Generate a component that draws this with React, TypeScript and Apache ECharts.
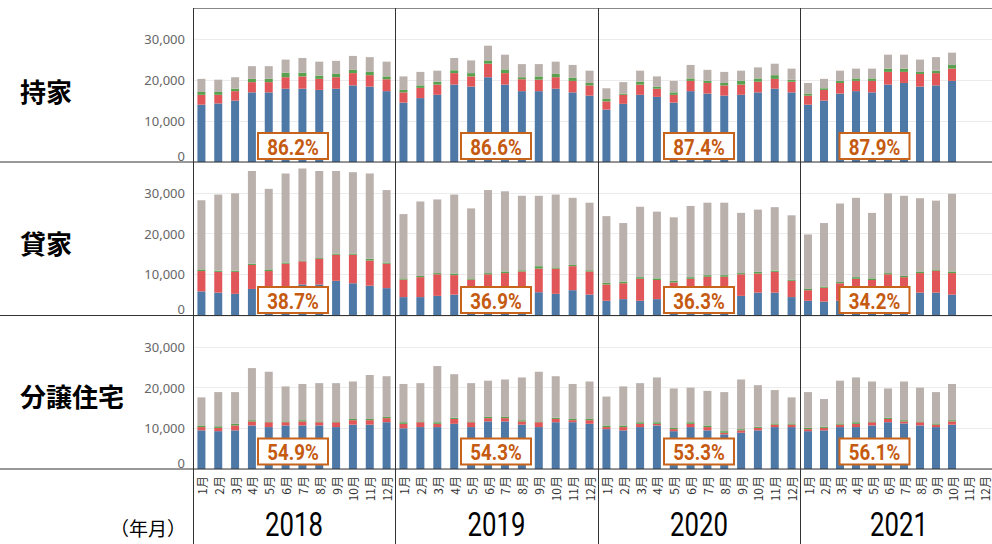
import React, { useEffect, useRef } from "react";
import * as echarts from "echarts";

const months = ["1月", "2月", "3月", "4月", "5月", "6月", "7月", "8月", "9月", "10月", "11月", "12月"];
const years = ["2018", "2019", "2020", "2021"];
const rowLabels = ["持家", "貸家", "分譲住宅"];
const shareLabels = [
  ["86.2%", "86.6%", "87.4%", "87.9%"],
  ["38.7%", "36.9%", "36.3%", "34.2%"],
  ["54.9%", "54.3%", "53.3%", "56.1%"],
];
const layerNames = ["区分A", "区分B", "区分C", "区分D"];

// Stacked tops (cumulative heights), per year
// 持家
const ownedBlue = [
  [14000, 14300, 15000, 17000, 17000, 17900, 17900, 17600, 17900, 18700, 18400, 17300],
  [14500, 15600, 16400, 18900, 18400, 20700, 18900, 17300, 17300, 17900, 17000, 16200],
  [12800, 14200, 16400, 15900, 14500, 17300, 16700, 16200, 16400, 17000, 17900, 17000],
  [14000, 15000, 16700, 17300, 17000, 18900, 19300, 18400, 18700, 19800],
];
const ownedRed = [
  [16400, 16400, 17300, 19500, 19500, 20700, 20900, 20300, 20700, 21700, 21200, 20200],
  [17000, 18100, 18900, 21700, 20900, 24000, 21700, 20200, 20100, 20700, 19800, 18700],
  [14800, 16400, 18900, 17900, 16400, 19800, 19300, 18700, 18900, 19600, 20300, 19600],
  [16200, 17600, 19300, 19800, 19800, 22000, 22000, 21500, 21700, 22800],
];
const ownedGreen = [
  [17100, 17100, 17900, 20300, 20300, 21800, 21800, 21100, 21500, 22500, 22000, 20900],
  [17600, 18700, 19600, 22400, 21700, 24800, 22600, 20700, 20900, 21500, 20600, 19300],
  [15400, 16700, 19600, 18400, 17000, 20400, 19800, 19300, 19800, 20400, 21200, 20100],
  [16700, 18000, 19800, 20400, 20400, 22800, 22800, 22000, 22300, 23700],
];
const ownedGray = [
  [20300, 20100, 20700, 23400, 23400, 25000, 25400, 24500, 24700, 25900, 25600, 24500],
  [20900, 22000, 22300, 25400, 24800, 28400, 26200, 23900, 23900, 24500, 23700, 22300],
  [18000, 19500, 22300, 20900, 19800, 23700, 22500, 22000, 22300, 23100, 24000, 22800],
  [19300, 20300, 22300, 22800, 22800, 26200, 26200, 25000, 25600, 26700],
];
// 貸家
const rentalBlue = [
  [5800, 5500, 5200, 6400, 6000, 6500, 7500, 7500, 8400, 7800, 7200, 6600],
  [4400, 4400, 4700, 5000, 4500, 4800, 5000, 5000, 5600, 5200, 6100, 5000],
  [3500, 3900, 3500, 3900, 3500, 3800, 4000, 4000, 4700, 5500, 5500, 4400],
  [3500, 3300, 3500, 3500, 3800, 4500, 5000, 5500, 5500, 5000],
];
const rentalRed = [
  [10800, 10600, 10600, 12300, 10800, 12600, 13200, 13800, 14800, 14800, 13400, 12600],
  [8700, 9300, 10000, 9800, 8700, 10000, 10300, 10700, 11400, 11400, 12000, 10700],
  [7500, 7800, 8900, 8600, 8000, 8900, 9400, 9400, 10000, 10200, 10600, 8400],
  [6100, 6700, 7800, 8900, 8600, 10000, 9300, 10300, 10900, 10300],
];
const rentalGreen = [
  [11200, 10900, 10900, 12600, 11200, 12900, 13400, 14000, 15100, 15100, 13800, 12900],
  [9000, 9600, 10300, 10200, 9000, 10300, 10700, 11000, 12000, 11700, 12300, 11000],
  [7900, 8200, 9300, 9000, 8400, 9300, 9800, 9800, 10300, 10600, 10900, 8700],
  [6400, 7000, 8100, 9300, 9000, 10300, 9600, 10700, 11200, 10700],
];
const rentalGray = [
  [28200, 29600, 29900, 35400, 31000, 34800, 36000, 35400, 35400, 35100, 34800, 30700],
  [24800, 27900, 28400, 29600, 26200, 30700, 30400, 29300, 29300, 29600, 28800, 27600],
  [24300, 22600, 26600, 25400, 24000, 26800, 27600, 27600, 25100, 25900, 26500, 24500],
  [19800, 22600, 27400, 28800, 25100, 29900, 29300, 28700, 28100, 29800],
];
// 分譲住宅
const condoBlue = [
  [9500, 9300, 9500, 10700, 10300, 10700, 10700, 10700, 10300, 10900, 10900, 11500],
  [10000, 10300, 10300, 11100, 10300, 11700, 11700, 10900, 10300, 11500, 11500, 11100],
  [9800, 9500, 10300, 10700, 9300, 10300, 9500, 8500, 8900, 9500, 10300, 10300],
  [9300, 9500, 10300, 10300, 10700, 11500, 11200, 10700, 10300, 10900],
];
const condoRed = [
  [10300, 10100, 10700, 11700, 11500, 11500, 11700, 11500, 11500, 12000, 12000, 12500],
  [11100, 11500, 11100, 12300, 11500, 12500, 12500, 11700, 11500, 12300, 12000, 12000],
  [10300, 10300, 11100, 11100, 9800, 11100, 10300, 8900, 9500, 10100, 10900, 10900],
  [9800, 10100, 10900, 11100, 11500, 12300, 11700, 11500, 10900, 11700],
];
const condoGreen = [
  [10700, 10500, 11100, 12000, 11700, 11700, 12000, 11700, 11700, 12300, 12300, 12800],
  [11500, 11700, 11500, 12600, 11700, 12800, 12800, 12000, 11700, 12600, 12300, 12300],
  [10700, 10700, 11500, 11500, 10100, 11500, 10700, 9300, 9800, 10400, 11200, 11200],
  [10100, 10400, 11200, 11500, 11700, 12600, 12000, 11700, 11200, 12000],
];
const condoGray = [
  [17600, 18900, 18900, 24800, 23900, 20300, 20900, 21100, 21100, 21500, 23100, 22800],
  [20900, 21100, 25300, 23300, 21100, 21700, 22000, 22500, 23900, 22800, 20900, 21500],
  [17800, 20300, 21100, 22500, 19800, 20000, 19200, 18900, 22000, 20600, 19400, 17600],
  [18900, 17200, 21700, 22500, 21500, 19800, 21500, 20000, 18900, 20900],
];

const rowsData = [
  [ownedBlue, ownedRed, ownedGreen, ownedGray],
  [rentalBlue, rentalRed, rentalGreen, rentalGray],
  [condoBlue, condoRed, condoGreen, condoGray],
];

const COLORS = ["#4e79a7", "#e15759", "#59a14f", "#bab0ac"];
const COL_X = [193, 395, 598, 800];
const COL_W = [202, 203, 202, 203];
const ROW_Y = [8, 162, 316];
const ROW_H = [154, 153, 153];
const Y_MAX = 37600;
const FONT = "'Noto Sans CJK JP', 'Noto Sans', sans-serif";
const BOX_X = [293, 496, 699, 874.5];
const BOX_Y = [146, 300, 451.5];

export default function App() {
  const ref = useRef<HTMLDivElement>(null);

  useEffect(() => {
    if (!ref.current) return;
    const chart = echarts.init(ref.current, undefined, { renderer: "svg" });

    const grid: any[] = [];
    const xAxis: any[] = [];
    const yAxis: any[] = [];
    const series: any[] = [];

    for (let r = 0; r < 3; r++) {
      for (let c = 0; c < 4; c++) {
        const idx = r * 4 + c;
        grid.push({ left: COL_X[c], top: ROW_Y[r], width: COL_W[c], height: ROW_H[r], containLabel: false });
        xAxis.push({
          type: "category",
          gridIndex: idx,
          data: months,
          boundaryGap: true,
          axisLine: { show: false },
          axisTick: { show: false },
          axisLabel: {
            show: r === 2,
            rotate: 90,
            interval: 0,
            fontSize: 12,
            color: "#333",
            margin: 7,
            fontFamily: FONT,
          },
          splitLine: { show: false },
        });
        yAxis.push({
          type: "value",
          gridIndex: idx,
          min: 0,
          max: Y_MAX,
          interval: 10000,
          axisLine: { show: false },
          axisTick: { show: false },
          axisLabel: {
            show: c === 0,
            showMaxLabel: false,
            verticalAlignMinLabel: "bottom",
            fontSize: 13,
            color: "#666",
            margin: 8,
            fontFamily: "'Noto Sans', sans-serif",
            formatter: (v: number) => (v % 10000 === 0 ? v.toLocaleString("en-US") : ""),
          },
          splitLine: { show: true, lineStyle: { color: "#ececec", width: 1 } },
        });
        const layers = rowsData[r];
        for (let s = 0; s < 4; s++) {
          const tops = layers[s][c];
          const below = s === 0 ? null : layers[s - 1][c];
          const data = tops.map((t: number, i: number) => (below ? t - below[i] : t));
          series.push({
            type: "bar",
            name: layerNames[s],
            xAxisIndex: idx,
            yAxisIndex: idx,
            stack: "st" + idx,
            data,
            barWidth: 8,
            itemStyle: { color: COLORS[s] },
            emphasis: { disabled: true },
          });
        }
      }
    }

    const graphic: any[] = [];
    const line = (x1: number, y1: number, x2: number, y2: number, color: string) => ({
      type: "line",
      z: 100,
      silent: true,
      shape: { x1, y1, x2, y2 },
      style: { stroke: color, lineWidth: 1 },
    });
    graphic.push(line(193, 8.5, 992, 8.5, "#888"));
    graphic.push(line(0, 162, 992, 162, "#333"));
    graphic.push(line(0, 315.5, 992, 315.5, "#333"));
    graphic.push(line(0, 469, 992, 469, "#333"));
    COL_X.forEach((x) => graphic.push(line(x + 0.5, 8, x + 0.5, 544, "#333")));

    const rowCenters = [90, 242, 395];
    rowLabels.forEach((t, r) => {
      graphic.push({
        type: "text",
        z: 100,
        x: 20,
        y: rowCenters[r],
        style: { text: t, fill: "#000", fontSize: 26, fontWeight: "bold", fontFamily: FONT, align: "left", verticalAlign: "middle" },
      });
    });

    years.forEach((t, c) => {
      graphic.push({
        type: "text",
        z: 100,
        x: c === 3 ? 899 : COL_X[c] + COL_W[c] / 2,
        y: 525,
        scaleX: 0.78,
        style: { text: t, fill: "#000", fontSize: 33, fontFamily: "Roboto, sans-serif", align: "center", verticalAlign: "middle" },
      });
    });

    graphic.push({
      type: "text",
      z: 100,
      x: 186,
      y: 527,
      style: { text: "（年月）", fill: "#000", fontSize: 19, fontFamily: FONT, align: "right", verticalAlign: "middle" },
    });

    shareLabels.forEach((row, r) => {
      row.forEach((t, c) => {
        const cx = BOX_X[c];
        const cy = BOX_Y[r];
        graphic.push({
          type: "rect",
          z: 100,
          shape: { x: cx - 35, y: cy - 13, width: 70, height: 26 },
          style: { fill: "#fff", stroke: "#c8631c", lineWidth: 2 },
        });
        graphic.push({
          type: "text",
          z: 101,
          x: cx,
          y: cy + 1,
          scaleX: 0.85,
          style: { text: t, fill: "#c55a11", fontSize: 22, fontWeight: "bold", fontFamily: "Roboto, sans-serif", align: "center", verticalAlign: "middle" },
        });
      });
    });

    chart.setOption({
      animation: false,
      backgroundColor: "#fff",
      grid,
      xAxis,
      yAxis,
      series,
      graphic,
    });

    return () => chart.dispose();
  }, []);

  return <div ref={ref} style={{ position: "absolute", left: 0, top: 0, width: 992, height: 544 }} />;
}
